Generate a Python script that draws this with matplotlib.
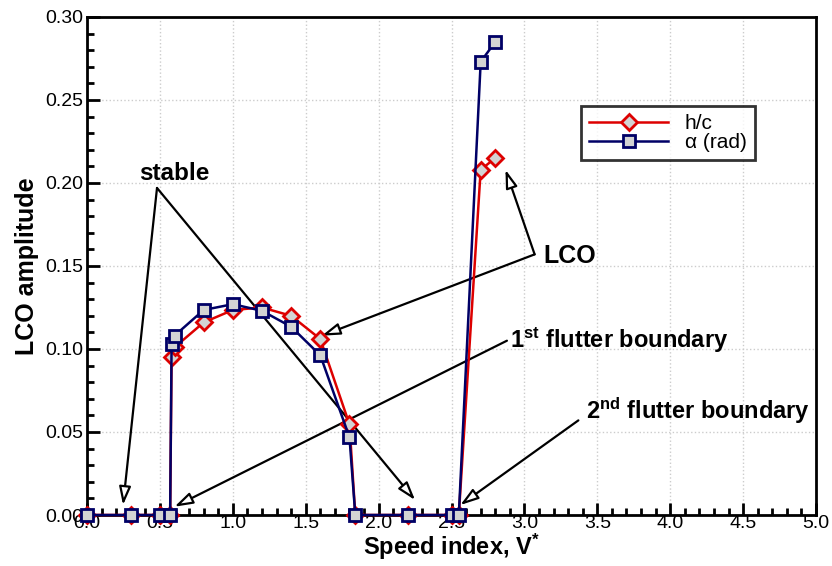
import matplotlib

matplotlib.use("Agg")
import matplotlib.pyplot as plt
from matplotlib.ticker import MultipleLocator

plt.rcParams["font.family"] = ["Liberation Sans", "DejaVu Sans"]
plt.rcParams["mathtext.fontset"] = "custom"
plt.rcParams["mathtext.rm"] = "Liberation Sans:bold"
plt.rcParams["mathtext.bf"] = "Liberation Sans:bold"
plt.rcParams["mathtext.it"] = "Liberation Sans:bold"

# ── LCO amplitude vs speed index ────────────────────────────────
speed = [0.0, 0.3, 0.5, 0.57, 0.58, 0.60, 0.8, 1.0, 1.2, 1.4, 1.6, 1.8, 1.84,
         2.2, 2.5, 2.55, 2.7, 2.8]
h_c = [0.0, 0.0, 0.0, 0.0, 0.095, 0.101, 0.116, 0.1235, 0.125, 0.120, 0.106,
       0.0546, 0.0, 0.0, 0.0, 0.0, 0.208, 0.215]
alpha = [0.0, 0.0, 0.0, 0.0, 0.103, 0.108, 0.1235, 0.127, 0.123, 0.1134,
         0.0962, 0.0468, 0.0, 0.0, 0.0, 0.0, 0.273, 0.285]

RED = "#dd0000"
NAVY = "#000066"
FACE = "#d3d3d3"

fig = plt.figure(figsize=(8.32, 5.66), dpi=100)
ax = fig.add_axes([0.1046, 0.0901, 0.8762, 0.8799])

ax.plot(speed, h_c, "-D", color=RED, lw=1.8, ms=8.5, mfc=FACE, mec=RED,
        mew=2, label="h/c", zorder=4, clip_on=False)
ax.plot(speed, alpha, "-s", color=NAVY, lw=1.8, ms=9, mfc=FACE, mec=NAVY,
        mew=2, label=r"α (rad)", zorder=5, clip_on=False)

ax.set_xlim(0, 5)
ax.set_ylim(0, 0.30)
ax.xaxis.set_major_locator(MultipleLocator(0.5))
ax.xaxis.set_minor_locator(MultipleLocator(0.1))
ax.yaxis.set_major_locator(MultipleLocator(0.05))
ax.yaxis.set_minor_locator(MultipleLocator(0.01))
ax.xaxis.set_major_formatter(plt.FuncFormatter(lambda v, p: f"{v:.1f}"))
ax.yaxis.set_major_formatter(plt.FuncFormatter(lambda v, p: f"{v:.2f}"))
ax.tick_params(which="both", direction="in", top=False, right=False,
               labelsize=14, width=2, pad=3)
ax.tick_params(which="major", length=9)
ax.tick_params(which="minor", length=5)
ax.tick_params(axis="x", pad=0)
for s in ax.spines.values():
    s.set_linewidth(2)
ax.grid(True, which="major", color="#cccccc", linestyle=":", linewidth=1)

ax.set_xlabel(r"Speed index, V$^{*}$", fontsize=17, fontweight="bold",
              labelpad=0)
ax.set_ylabel("LCO amplitude", fontsize=18, fontweight="bold", labelpad=4)

leg = ax.legend(loc="upper left", bbox_to_anchor=(0.663, 0.843), fontsize=15,
                frameon=True, fancybox=False, handlelength=3.8,
                borderpad=0.4, labelspacing=0.0, handletextpad=0.8)
leg.get_frame().set_edgecolor("black")
leg.get_frame().set_linewidth(2)

# ── Annotations with open arrowheads ────────────────────────────
arrow = dict(arrowstyle="-|>,head_length=1.1,head_width=0.35", fc="white",
             ec="black", lw=1.6, shrinkA=0, shrinkB=0)

ax.text(0.36, 0.206, "stable", fontsize=17.5, fontweight="bold", va="center")
for tgt in [(0.247, 0.006), (2.25, 0.009)]:
    ax.annotate("", xy=tgt, xytext=(0.48, 0.197), arrowprops=arrow)

ax.text(3.13, 0.156, "LCO", fontsize=18, fontweight="bold", va="center")
for tgt in [(1.61, 0.108), (2.87, 0.208)]:
    ax.annotate("", xy=tgt, xytext=(3.07, 0.157), arrowprops=arrow)

ax.text(2.90, 0.105, r"1$^{st}$ flutter boundary", fontsize=17,
        fontweight="bold", va="center")
ax.annotate("", xy=(0.6, 0.005), xytext=(2.88, 0.105), arrowprops=arrow)

ax.text(3.42, 0.063, r"2$^{nd}$ flutter boundary", fontsize=17,
        fontweight="bold", va="center")
ax.annotate("", xy=(2.56, 0.006), xytext=(3.37, 0.057), arrowprops=arrow)

fig.savefig("out.png", dpi=100)
